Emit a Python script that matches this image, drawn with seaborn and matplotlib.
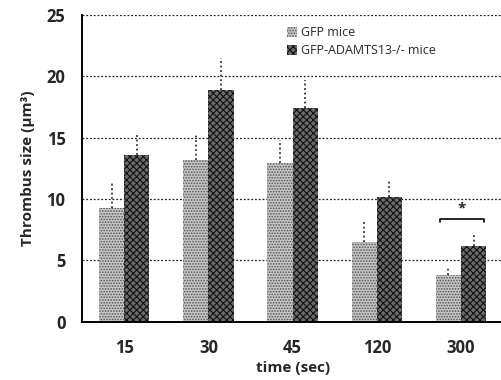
"""Thrombus size over time, GFP vs GFP-ADAMTS13-/- mice."""

import matplotlib
matplotlib.use("Agg")

import matplotlib.pyplot as plt
import pandas as pd
import seaborn as sns
from matplotlib.patches import Patch

times = ["15", "30", "45", "120", "300"]
groups = ["GFP mice", "GFP-ADAMTS13-/- mice"]
gfp_size = [9.3, 13.2, 12.9, 6.5, 3.8]
ko_size = [13.6, 18.9, 17.4, 10.2, 6.2]
gfp_err = [2.1, 2.2, 1.9, 1.6, 0.7]
ko_err = [1.8, 2.6, 2.3, 1.4, 0.9]

df = pd.DataFrame({
    "time": times * 2,
    "group": [groups[0]] * len(times) + [groups[1]] * len(times),
    "size": gfp_size + ko_size,
})

sns.set_theme(style="white")
plt.rcParams["font.family"] = ["Open Sans", "DejaVu Sans"]
plt.rcParams["hatch.linewidth"] = 0.8

fig = plt.figure(figsize=(5.01, 3.8), dpi=100)
ax = fig.add_axes([0.164, 0.153, 0.84, 0.808])

palette = {groups[0]: "#c6c6c6", groups[1]: "#6a6a6a"}
sns.barplot(data=df, x="time", y="size", hue="group", order=times,
            hue_order=groups, palette=palette, width=0.6, errorbar=None,
            saturation=1, edgecolor="none", legend=False, ax=ax)

hatches = ["......", "xxxxx"]
hatch_cols = ["#555555", "#111111"]
errs = [gfp_err, ko_err]
for cont, h, hc, err in zip(ax.containers, hatches, hatch_cols, errs):
    for bar, e in zip(cont, err):
        bar.set_hatch(h)
        bar.set_edgecolor(hc)
        bar.set_linewidth(0)
        cx = bar.get_x() + bar.get_width() / 2
        top = bar.get_height()
        ax.vlines(cx, top, top + e, colors="#333333", linestyles=(0, (1, 1.5)),
                  linewidth=1.3)

# significance bracket at 300 s
c300 = ax.containers
x1 = c300[0][4].get_x() + 0.05
x2 = c300[1][4].get_x() + c300[1][4].get_width() - 0.03
yb = 8.4
ax.plot([x1, x1, x2, x2], [yb - 0.3, yb, yb, yb - 0.3], color="black", lw=1.2)
ax.text((x1 + x2) / 2, yb + 0.3, "*", ha="center", va="bottom",
        fontsize=11, fontweight="bold")

ax.set_ylim(0, 25)
ax.set_xlim(-0.5, 4.5)
ax.set_yticks([0, 5, 10, 15, 20, 25])
ax.yaxis.grid(True, color="#222222", linestyle=(0, (1.5, 1.5)), linewidth=0.9)
ax.set_axisbelow(True)
for s in ["top", "right"]:
    ax.spines[s].set_visible(False)
for s in ["left", "bottom"]:
    ax.spines[s].set_color("black")
    ax.spines[s].set_linewidth(1.4)
ax.tick_params(axis="y", length=0, pad=12, labelsize=12)
ax.tick_params(axis="x", length=0, pad=12, labelsize=12)
for lab in ax.get_xticklabels() + ax.get_yticklabels():
    lab.set_fontweight("bold")

ax.set_xlabel("time (sec)", fontsize=11, fontweight="bold", labelpad=3)
ax.set_ylabel("Thrombus size (\u03bcm\u00b3)", fontsize=11, fontweight="bold",
              labelpad=8)

handles = [Patch(facecolor=palette[g], hatch=h, edgecolor=hc, linewidth=0)
           for g, h, hc in zip(groups, hatches, hatch_cols)]
ax.legend(handles, groups, loc="upper left", bbox_to_anchor=(0.46, 1.0),
          frameon=False, fontsize=9, handlelength=0.8, handleheight=0.8,
          handletextpad=0.3, labelspacing=0.4)

fig.savefig("out.png", dpi=100)
